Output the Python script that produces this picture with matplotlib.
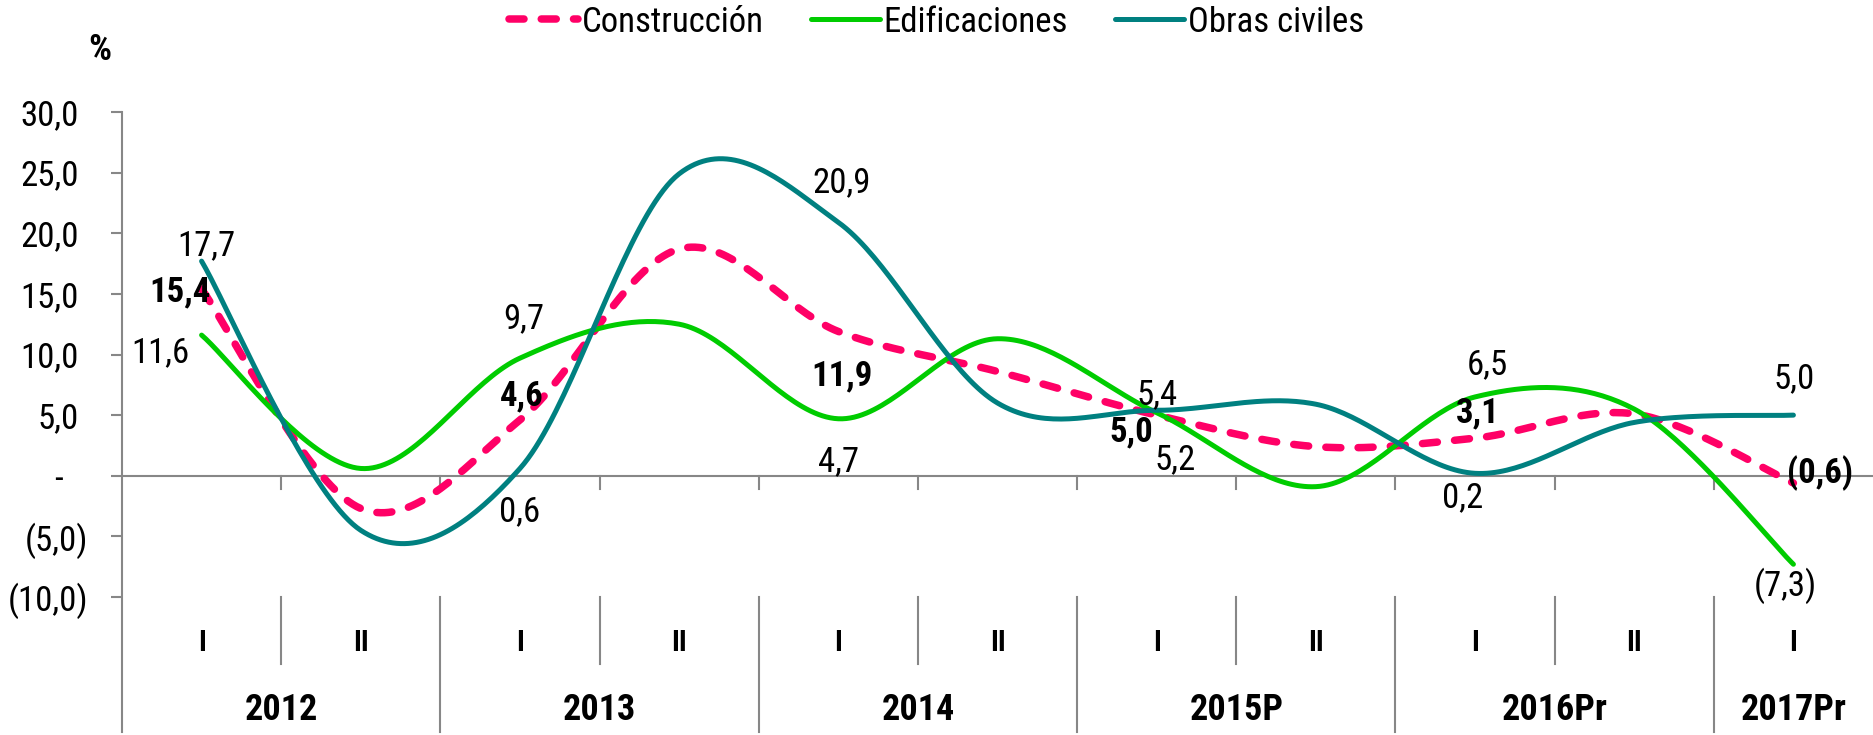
import os
import numpy as np
import matplotlib
matplotlib.use('Agg')
import matplotlib.pyplot as plt
from matplotlib.lines import Line2D
from matplotlib import font_manager as fm
from matplotlib.transforms import ScaledTranslation, blended_transform_factory

# ---------------- data ----------------
periods = ['I', 'II', 'I', 'II', 'I', 'II', 'I', 'II', 'I', 'II', 'I']
years = ['2012', '2013', '2014', '2015P', '2016Pr', '2017Pr']
year_spans = [2, 2, 2, 2, 2, 1]

construccion = [15.4, -2.7, 4.6, 18.7, 11.9, 8.6, 5.0, 2.4, 3.1, 5.1, -0.6]
edificaciones = [11.6, 0.6, 9.7, 12.5, 4.7, 11.3, 5.2, -0.9, 6.5, 5.5, -7.3]
obras_civiles = [17.7, -4.5, 0.6, 24.9, 20.9, 6.0, 5.4, 5.9, 0.2, 4.4, 5.0]
labeled_idx = [0, 2, 4, 6, 8, 10]

y_ticks = [-10, -5, 0, 5, 10, 15, 20, 25, 30]

# ---------------- fonts: look for a narrow sans ----------------
files = {os.path.basename(e.fname).lower(): e.fname for e in fm.fontManager.ttflist}
pairs = [
    ('liberationsansnarrow-regular.ttf', 'liberationsansnarrow-bold.ttf'),
    ('robotocondensed-regular.ttf', 'robotocondensed-bold.ttf'),
    ('notosans-condensed.ttf', 'notosans-condensedbold.ttf'),
    ('notosans-condensedregular.ttf', 'notosans-condensedbold.ttf'),
    ('dejavusanscondensed.ttf', 'dejavusanscondensed-bold.ttf'),
]
REG = BOLD = None
for r, b in pairs:
    if r in files and b in files:
        REG, BOLD = files[r], files[b]
        break


def fp(size, bold=False):
    if REG:
        return fm.FontProperties(fname=BOLD if bold else REG, size=size)
    return fm.FontProperties(family=['Liberation Sans', 'DejaVu Sans'], size=size,
                             weight='bold' if bold else 'normal')


PINK, GREEN, TEAL, GRAY = '#FF0066', '#00CC00', '#008080', '#878787'
W, H = 1873, 735

fig = plt.figure(figsize=(W / 100, H / 100), dpi=100)
ax_left, ax_right, ax_top, ax_bot = 122, 1873, 112, 597
ax = fig.add_axes([ax_left / W, 1 - ax_bot / H, (ax_right - ax_left) / W, (ax_bot - ax_top) / H])
ax.set_xlim(-0.5, len(periods) - 0.5)
ax.set_ylim(-10, 30)
for s in ax.spines.values():
    s.set_visible(False)


def smooth(vals, n=40):
    y = np.asarray(vals, float)
    P = np.column_stack([np.arange(len(y), dtype=float), y])
    out = []
    for i in range(len(P) - 1):
        p0 = P[i - 1] if i > 0 else P[i]
        p1, p2 = P[i], P[i + 1]
        p3 = P[i + 2] if i + 2 < len(P) else P[i + 1]
        c1 = p1 + (p2 - p0) / 6
        c2 = p2 - (p3 - p1) / 6
        t = np.linspace(0, 1, n, endpoint=(i == len(P) - 2))[:, None]
        out.append((1 - t) ** 3 * p1 + 3 * (1 - t) ** 2 * t * c1 + 3 * (1 - t) * t ** 2 * c2 + t ** 3 * p2)
    return np.vstack(out)


def fmt(v):
    s = f"{abs(v):.1f}".replace('.', ',')
    return f"({s})" if v < 0 else s


series = [
    ('Construcción', construccion, dict(color=PINK, lw=5.4, dashes=(2.0, 2.3), dash_capstyle='round'), True,
     [(-22, -3), (2, 24), (4, -44), (-25, -17), (3, 25), (27, 10)]),
    ('Edificaciones', edificaciones, dict(color=GREEN, lw=3.6, solid_capstyle='round'), False,
     [(-41, -18), (4, 39), (0, -43), (18, -47), (12, 32), (-8, -22)]),
    ('Obras civiles', obras_civiles, dict(color=TEAL, lw=3.6, solid_capstyle='round'), False,
     [(5, 15), (0, -43), (3, 40), (0, 16), (-12, -24), (1, 36)]),
]

handles = []
for z, (name, vals, kw, bold, offs) in enumerate(series):
    c = smooth(vals)
    ax.plot(c[:, 0], c[:, 1], zorder=3 + z, **kw)
    handles.append(Line2D([], [], **kw))
    for idx, (dx, dy) in zip(labeled_idx, offs):
        ax.annotate(fmt(vals[idx]), (idx, vals[idx]), xytext=(dx, dy), textcoords='offset pixels',
                    ha='center', va='center', fontproperties=fp(25, bold), color='black', zorder=10)

# zero line with downward ticks at category boundaries
ax.axhline(0, color=GRAY, lw=1.5, zorder=1)
px_per_unit = (ax_bot - ax_top) / 40.0
for b in np.arange(0.5, len(periods) - 0.5, 1.0):
    ax.plot([b, b], [0, -13 / px_per_unit], color=GRAY, lw=1.5, zorder=1)

# left axis line extended into category area
bt = blended_transform_factory(ax.transAxes, ax.transAxes)
ext = -(732 - ax_bot) / (ax_bot - ax_top)
ax.plot([0, 0], [1, ext], transform=bt, color=GRAY, lw=1.5, clip_on=False)

# y ticks
ax.set_xticks([])
ax.set_yticks(y_ticks)
ax.set_yticklabels([fmt(v) if v != 0 else '-' for v in y_ticks])
ax.tick_params(axis='y', direction='out', length=7.9, width=1.5, color=GRAY, pad=16.6)
for v, lab in zip(y_ticks, ax.get_yticklabels()):
    lab.set_fontproperties(fp(25))
    shift = 9 if v > 0 else (25 if v == 0 else 0)
    if shift:
        lab.set_transform(lab.get_transform() + ScaledTranslation(-shift / 100, 0, fig.dpi_scale_trans))

# multi-level category axis
xb = blended_transform_factory(ax.transData, ax.transAxes)
short_y = -(664 - ax_bot) / (ax_bot - ax_top)
row1_y = -(643 - ax_bot) / (ax_bot - ax_top)
row2_y = -(710 - ax_bot) / (ax_bot - ax_top)
for i, p in enumerate(periods):
    ax.text(i, row1_y, p, transform=xb, ha='center', va='center', fontproperties=fp(21, True))
start = 0
for yr, span in zip(years, year_spans):
    ax.text(start + (span - 1) / 2, row2_y, yr, transform=xb, ha='center', va='center',
            fontproperties=fp(26, True))
    if start > 0:
        ax.plot([start - 0.5, start - 0.5], [0, ext], transform=xb, color=GRAY, lw=1.5, clip_on=False)
    for k in range(1, span):
        ax.plot([start + k - 0.5] * 2, [0, short_y], transform=xb, color=GRAY, lw=1.5, clip_on=False)
    start += span

# "%" label
fig.text(100 / W, 1 - 50 / H, '%', ha='center', va='center', fontproperties=fp(26, True))

# legend
fig.legend(handles, [s[0] for s in series], loc='center', bbox_to_anchor=(0.5, 1 - 22 / H), ncol=3,
           frameon=False, prop=fp(25), handlelength=2.0, handletextpad=0.1, columnspacing=1.35,
           borderpad=0, borderaxespad=0)

fig.savefig('out.png', dpi=100)
